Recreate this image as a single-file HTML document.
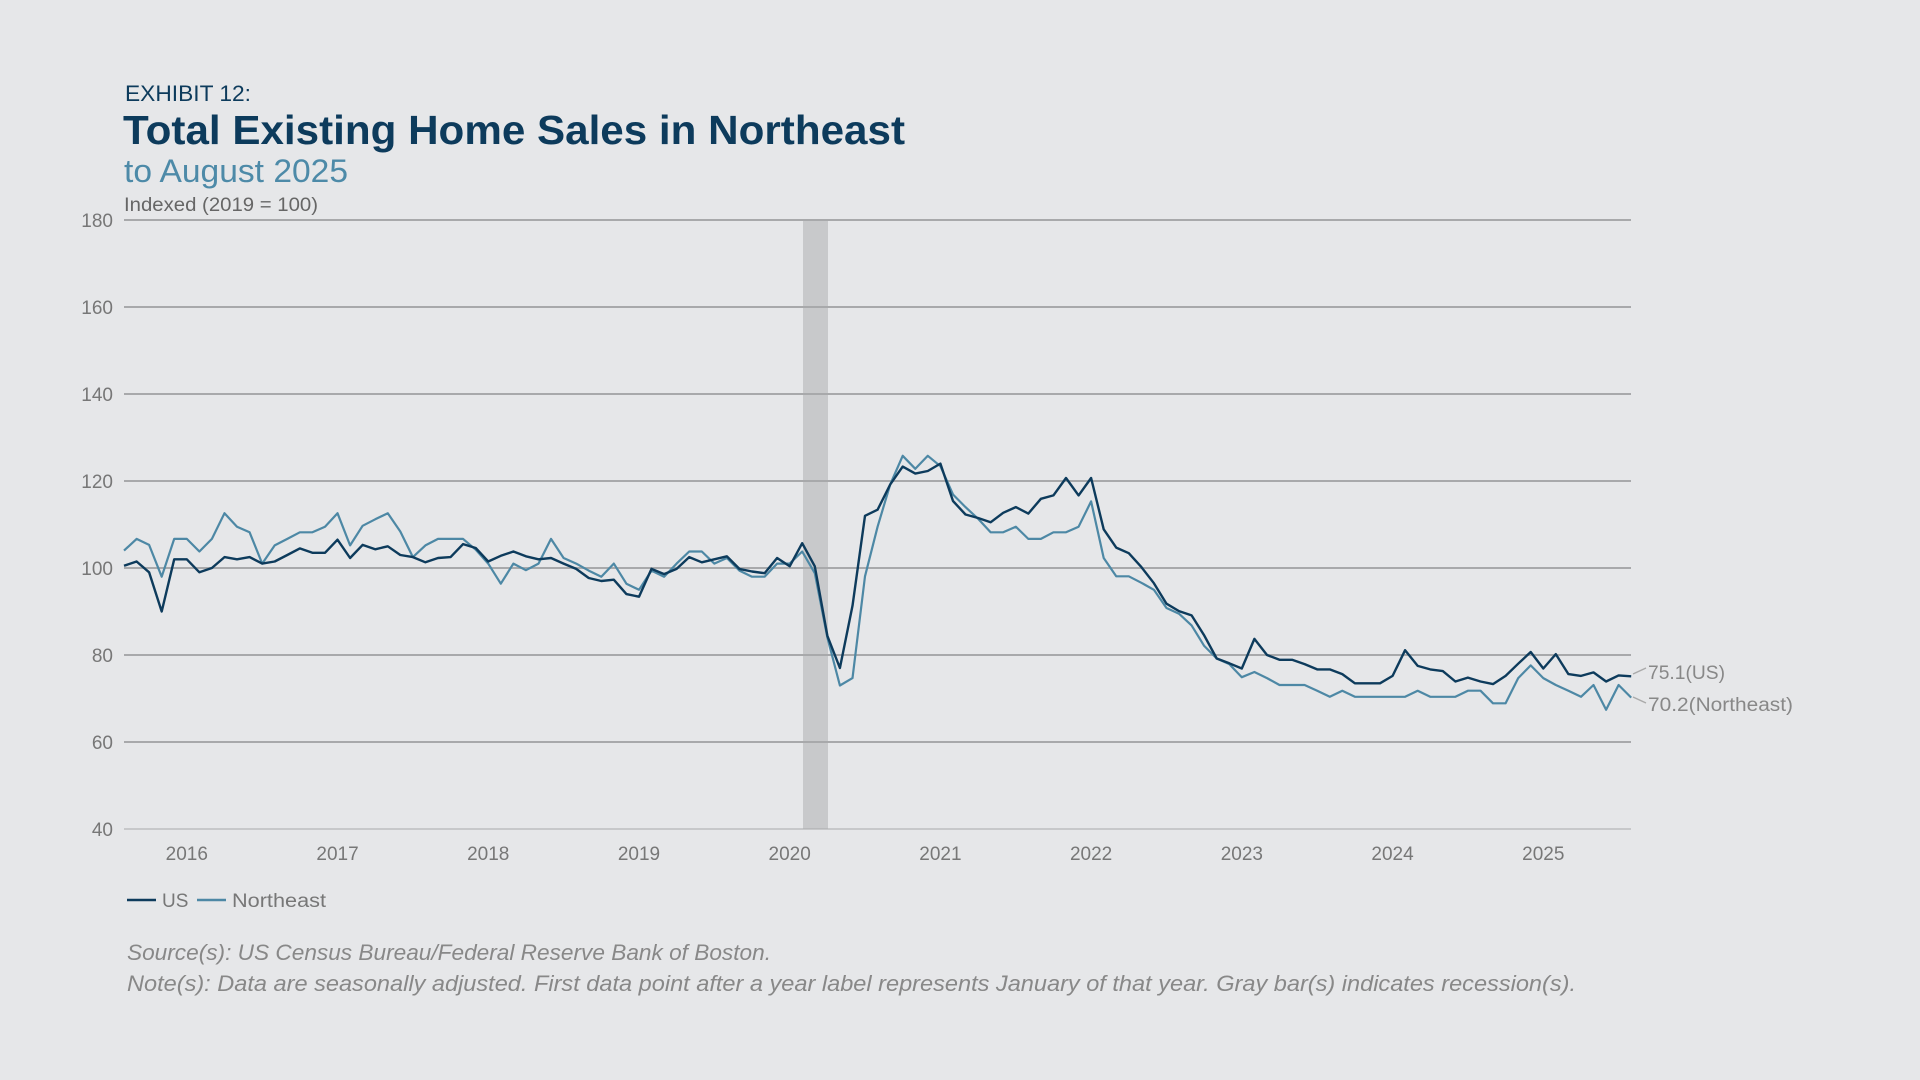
<!DOCTYPE html>
<html><head><meta charset="utf-8"><style>
html,body{margin:0;padding:0;background:#e6e7e9;}
body{width:1920px;height:1080px;overflow:hidden;font-family:"Liberation Sans","DejaVu Sans",sans-serif;}
</style></head><body>
<svg id="s" width="1920" height="1080" xmlns="http://www.w3.org/2000/svg" style="position:absolute;left:0;top:0">
<rect width="1920" height="1080" fill="#e6e7e9"/>
<text x="125" y="101" font-size="22" fill="#0d3b5c" textLength="126" lengthAdjust="spacingAndGlyphs">EXHIBIT 12:</text>
<text x="123" y="144" font-size="41" font-weight="bold" fill="#0d3b5c" textLength="782" lengthAdjust="spacingAndGlyphs">Total Existing Home Sales in Northeast</text>
<text x="124" y="182" font-size="32" fill="#4d8aa8" textLength="224" lengthAdjust="spacingAndGlyphs">to August 2025</text>
<text x="124" y="211" font-size="19" fill="#666" textLength="194" lengthAdjust="spacingAndGlyphs">Indexed (2019 = 100)</text>
<rect x="803" y="220" width="25" height="609" fill="#c8c9cb"/>
<g id="grid" stroke="#a8a9ab" stroke-width="2"></g>
<g id="ylab" font-size="19" fill="#777" text-anchor="end"></g>
<g id="xlab" font-size="19" fill="#777" text-anchor="middle"></g>
<polyline id="ne" fill="none" stroke="#4d88a5" stroke-width="2.2" stroke-linejoin="round"/>
<polyline id="us" fill="none" stroke="#0d3b5c" stroke-width="2.4" stroke-linejoin="round"/>
<line x1="1633" y1="674" x2="1646" y2="668" stroke="#aaa" stroke-width="1.5"/>
<line x1="1633" y1="697" x2="1646" y2="703" stroke="#aaa" stroke-width="1.5"/>
<text x="1648" y="679" font-size="19" fill="#888" textLength="77" lengthAdjust="spacingAndGlyphs">75.1(US)</text>
<text x="1648" y="711" font-size="19" fill="#888" textLength="145" lengthAdjust="spacingAndGlyphs">70.2(Northeast)</text>
<line x1="127" y1="900" x2="156" y2="900" stroke="#0d3b5c" stroke-width="2.4"/>
<text x="162" y="907" font-size="19" fill="#777">US</text>
<line x1="197" y1="900" x2="226" y2="900" stroke="#4d88a5" stroke-width="2.4"/>
<text x="232" y="907" font-size="19" fill="#777" textLength="94" lengthAdjust="spacingAndGlyphs">Northeast</text>
<text x="127" y="960" font-size="22" font-style="italic" fill="#888" textLength="644" lengthAdjust="spacingAndGlyphs">Source(s): US Census Bureau/Federal Reserve Bank of Boston.</text>
<text x="127" y="991" font-size="22" font-style="italic" fill="#888" textLength="1449" lengthAdjust="spacingAndGlyphs">Note(s): Data are seasonally adjusted. First data point after a year label represents January of that year. Gray bar(s) indicates recession(s).</text>
</svg>
<script>
var NS="http://www.w3.org/2000/svg";
function Y(v){return 220+(180-v)*4.35;}
function X(m){return 124+m*12.56;}
var g=document.getElementById('grid'),yl=document.getElementById('ylab'),xl=document.getElementById('xlab');
for(var v=40;v<=180;v+=20){var l=document.createElementNS(NS,'line');l.setAttribute('x1',124);l.setAttribute('x2',1631);l.setAttribute('y1',Y(v));l.setAttribute('y2',Y(v));if(v==40){l.setAttribute('stroke-width','1');}g.appendChild(l);
var t=document.createElementNS(NS,'text');t.setAttribute('x',113);t.setAttribute('y',Y(v)+7);t.textContent=v;yl.appendChild(t);}
for(var yr=2016;yr<=2025;yr++){var t=document.createElementNS(NS,'text');t.setAttribute('x',X(5+(yr-2016)*12));t.setAttribute('y',860);t.textContent=yr;xl.appendChild(t);}
var us=[100.5,101.5,99,90,102,102,99,100,102.5,102,102.5,101,101.5,103,104.5,103.5,103.5,106.5,102.3,105.3,104.3,105,103,102.5,101.3,102.3,102.5,105.5,104.6,101.5,102.8,103.8,102.7,102,102.3,101,99.8,97.7,97,97.3,94,93.4,99.8,98.6,99.8,102.5,101.3,102,102.7,99.8,99.2,98.8,102.3,100.4,105.7,100.4,84.4,77,91.3,112,113.4,119.2,123.3,121.7,122.3,124,115.4,112.3,111.5,110.5,112.7,114,112.5,115.9,116.7,120.7,116.7,120.7,108.9,104.7,103.4,100.2,96.5,91.8,90.1,89.1,84.5,79.2,78.1,76.9,83.7,80,78.9,78.9,77.9,76.7,76.7,75.6,73.5,73.5,73.5,75.2,81.1,77.5,76.7,76.3,73.9,74.8,73.9,73.3,75.2,78,80.7,76.9,80.2,75.6,75.2,76,73.9,75.3,75.1];
var ne=[104,106.7,105.3,98,106.7,106.7,103.8,106.7,112.6,109.5,108.2,101,105.2,106.7,108.2,108.2,109.5,112.6,105.2,109.7,111.2,112.6,108.4,102.5,105.2,106.7,106.7,106.7,104.2,101,96.4,101,99.5,101,106.7,102.3,101,99.4,98,101,96.4,95,99.4,98,101,103.8,103.8,101,102.3,99.4,98,98,101,101,103.8,98.8,84,73,74.7,98.1,109.5,119.2,125.8,122.8,125.8,123.4,116.9,114,111.3,108.2,108.2,109.5,106.7,106.7,108.2,108.2,109.5,115.3,102.3,98.1,98.1,96.6,95,90.8,89.5,86.8,82.1,79.2,77.9,74.9,76.1,74.7,73.1,73.1,73.1,71.8,70.4,71.8,70.4,70.4,70.4,70.4,70.4,71.8,70.4,70.4,70.4,71.8,71.8,68.9,68.9,74.7,77.6,74.7,73.1,71.8,70.4,73.1,67.4,73.1,70.2];
function pts(a){return a.map(function(v,i){return X(i).toFixed(1)+','+Y(v).toFixed(1);}).join(' ');}
document.getElementById('us').setAttribute('points',pts(us));
document.getElementById('ne').setAttribute('points',pts(ne));
</script>
</body></html>
